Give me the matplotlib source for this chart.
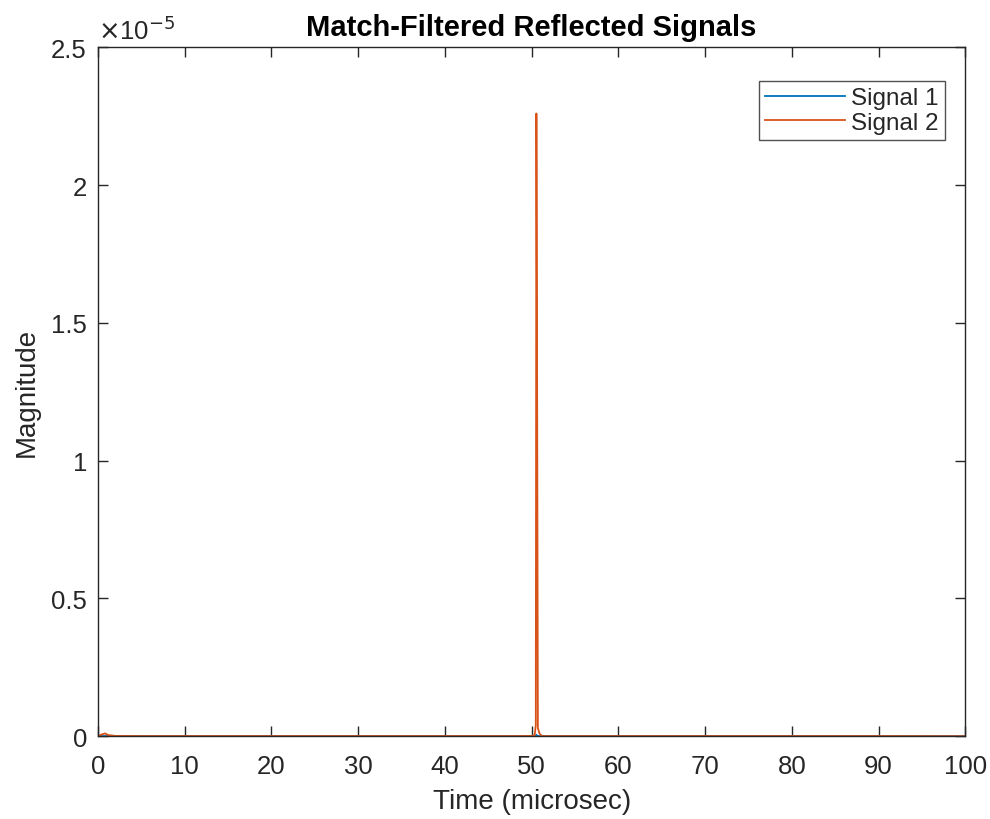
import matplotlib
matplotlib.use('Agg')
import matplotlib.pyplot as plt
from matplotlib.ticker import FuncFormatter

time_us = [0.0, 0.4, 0.8, 1.2, 2.0, 5.0, 10.0, 20.0, 30.0, 40.0, 48.0, 50.0,
           50.35, 50.48, 50.55, 50.62, 50.72, 50.9, 51.2, 52.0, 60.0, 70.0,
           80.0, 90.0, 100.0]
signal1 = [0.0, 0.02e-7, 0.03e-7, 0.02e-7, 0.01e-7, 0.01e-7, 0.01e-7, 0.01e-7,
           0.01e-7, 0.01e-7, 0.01e-7, 0.02e-7, 0.05e-7, 0.2e-7, 0.5e-7,
           0.2e-7, 0.05e-7, 0.02e-7, 0.01e-7, 0.01e-7, 0.01e-7, 0.01e-7,
           0.01e-7, 0.01e-7, 0.0]
signal2 = [0.0, 0.6e-7, 1.0e-7, 0.4e-7, 0.1e-7, 0.05e-7, 0.05e-7, 0.05e-7,
           0.05e-7, 0.05e-7, 0.05e-7, 0.1e-7, 0.3e-7, 0.4e-6, 2.26e-5,
           1.48e-5, 0.3e-6, 0.1e-6, 0.05e-7, 0.05e-7, 0.05e-7, 0.05e-7,
           0.05e-7, 0.05e-7, 0.0]

x_ticks = [0, 10, 20, 30, 40, 50, 60, 70, 80, 90, 100]
y_ticks = [0, 0.5e-5, 1.0e-5, 1.5e-5, 2.0e-5, 2.5e-5]

plt.rcParams['font.family'] = ['Liberation Sans', 'DejaVu Sans']
ax_col = '#262626'

fig = plt.figure(figsize=(9.9, 8.2), dpi=100)
ax = fig.add_axes([0.099, 0.101, 0.876, 0.840])

ax.plot(time_us, signal1, color='#0072BD', lw=1.3, label='Signal 1')
ax.plot(time_us, signal2, color='#D95319', lw=1.3, label='Signal 2')

ax.set_xlim(0, 100)
ax.set_ylim(0, 2.5e-5)
ax.set_xticks(x_ticks)
ax.set_yticks(y_ticks)
ax.yaxis.set_major_formatter(FuncFormatter(lambda v, p: '%g' % round(v / 1e-5, 3)))
ax.tick_params(direction='in', top=True, right=True, length=7, width=1,
               colors=ax_col, labelsize=18.5)
ax.tick_params(axis='x', pad=13)
ax.tick_params(axis='y', pad=8)
for s in ax.spines.values():
    s.set_color(ax_col)
    s.set_linewidth(1)

ax.text(0.0, 1.005, r'$\times$10$^{-5}$', transform=ax.transAxes,
        fontsize=18.5, color=ax_col, va='bottom', ha='left')

ax.set_xlabel('Time (microsec)', fontsize=20, color=ax_col, labelpad=7)
ax.set_ylabel('Magnitude', fontsize=20, color=ax_col, labelpad=8)
ax.set_title('Match-Filtered Reflected Signals', fontsize=21, fontweight='bold',
             color='black', pad=9)

leg = ax.legend(loc='upper right', bbox_to_anchor=(945 / 990, 1 - 82 / 820),
                bbox_transform=fig.transFigure, borderaxespad=0,
                fontsize=17.5, frameon=True, fancybox=False,
                handlelength=3.3, labelspacing=0.1,
                handletextpad=0.25, borderpad=0.25)
leg.get_frame().set_edgecolor(ax_col)
leg.get_frame().set_linewidth(1)
for line in leg.get_lines():
    line.set_linewidth(1.3)
for t in leg.get_texts():
    t.set_color(ax_col)

fig.savefig('out.png', dpi=100)
